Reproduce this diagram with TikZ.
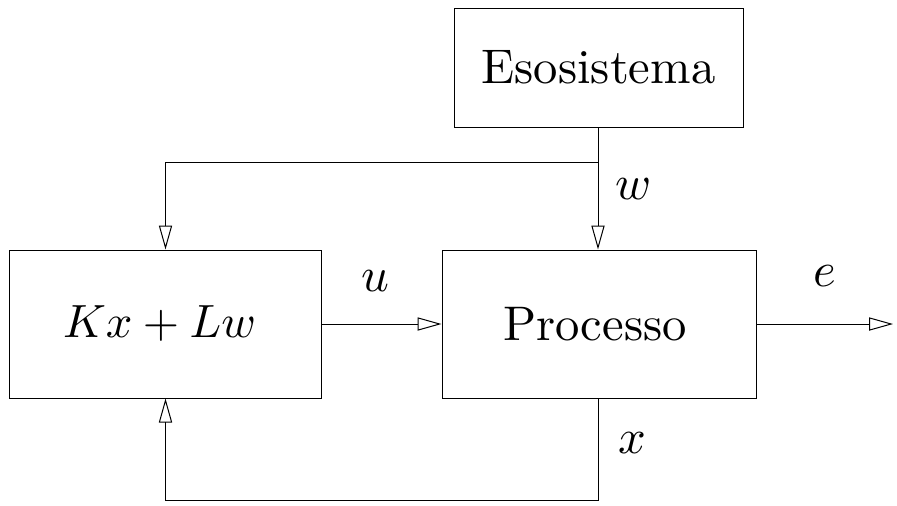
\documentclass[tikz,border=0pt]{standalone}
\usepackage{graphicx}
\usetikzlibrary{arrows.meta}
\newcommand{\bigtxt}[1]{\scalebox{2.43}{#1}}
\begin{document}
\begin{tikzpicture}[x=0.5pt,y=-0.5pt,
  blockbox/.style={draw,line width=0.5pt,inner sep=0pt},
  lbl/.style={inner sep=0pt},
  conn/.style={line width=0.5pt,-{Triangle[open,length=12pt,width=6.6pt]}},
  wire/.style={line width=0.5pt}]
\useasboundingbox (0,0) rectangle (897,505);
\node[blockbox,minimum width=144.5pt,minimum height=59.5pt] (eso) at (598.5,67.5) {\bigtxt{Esosistema}};
\node[blockbox,minimum width=156pt,minimum height=74pt] (ctrl) at (165.5,324) {\hspace*{-6pt}\scalebox{2.33}{$Kx+Lw$}};
\node[blockbox,minimum width=157pt,minimum height=74pt] (proc) at (599,324) {\hspace*{-4pt}\bigtxt{Processo}};
\coordinate (br) at (598,162);
\coordinate (out) at (893,324);
\coordinate (fb1) at (598,500);
\coordinate (fb2) at (165.5,500);
\draw[wire] (eso.south -| br) -- (br);
\draw[conn] (br) -- (br |- proc.north);
\draw[conn] (br) -| (ctrl.north);
\draw[conn] (ctrl.east) -- (proc.west);
\draw[conn] (proc.east) -- (out);
\draw[conn] (proc.south -| fb1) -- (fb1) -- (fb2) -- (ctrl.south);
\node[lbl] (lw) at (634,189) {\bigtxt{$w$}};
\node[lbl] (lu) at (375,281) {\bigtxt{$u$}};
\node[lbl] (le) at (825,276) {\bigtxt{$e$}};
\node[lbl] (lx) at (632,443) {\bigtxt{$x$}};
\end{tikzpicture}
\end{document}
